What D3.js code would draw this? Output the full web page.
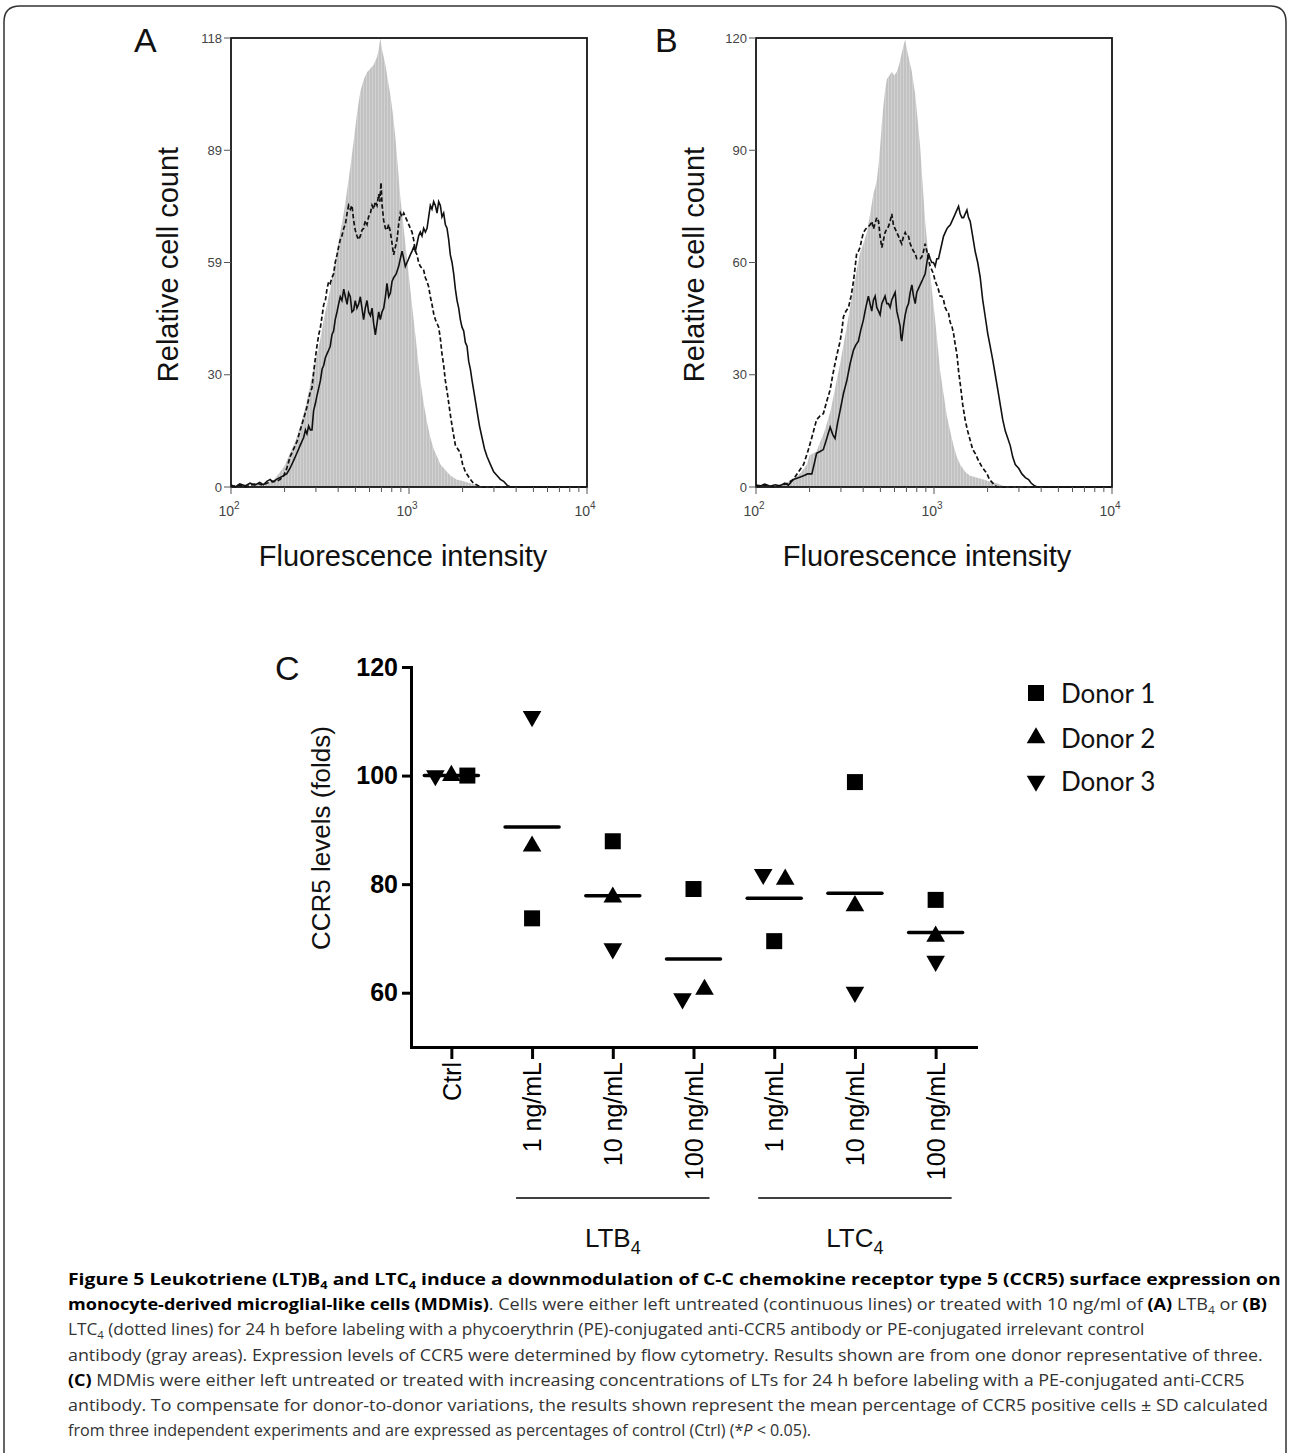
<!DOCTYPE html>
<html><head><meta charset="utf-8">
<script src="https://cdn.jsdelivr.net/npm/d3@7"></script>
<style>body{margin:0;background:#fff}</style>
</head><body>
<script>
// ---------- Panel A / B : flow cytometry histograms (intensity, relative count) ----------
const grayA = [[100,0],[140,0.5],[159,1],[175,2],[189,4],[200,5.5],[215,9],[230,12],[245,16],[262,21],[279,27],[298,33],[318,39],[332,44],[346,48],[361,52],[377,57],[394,62],[411,67],[430,72],[449,78],[468,84],[489,91],[510,98],[533,104],[556,107],[581,109],[607,110],[633,111],[647,112],[661,113],[676,115],[690,118],[705,115],[721,113],[737,111],[760,107],[786,103],[812,98],[838,92],[866,84],[894,76],[924,70],[954,64],[985,58],[1017,52],[1050,46],[1086,40],[1120,34],[1158,28],[1209,22],[1263,17],[1318,13],[1376,10],[1437,8],[1500,6],[1600,4.5],[1707,3],[1850,2],[2029,1.5],[2200,1],[2410,0.5],[2627,0]];
const solidA = [[100,0.5],[106,0],[112,0.8],[120,0.3],[128,1],[136,0.5],[145,1.2],[152,0.6],[159,1.5],[166,2],[172,1.3],[180,2],[189,2.5],[198,3],[206,3.5],[215,5],[225,7],[235,9],[245,11],[256,13],[262,15],[267,14],[273,16],[279,15],[285,15],[291,20],[298,22],[304,24],[311,26],[318,28],[325,31],[332,32],[339,34],[346,35],[354,36],[361,37],[369,40],[377,41],[385,44],[394,46],[402,48],[411,50],[420,49],[430,52],[439,50],[449,48],[458,51],[468,50],[478,46],[489,46.5],[499,49],[510,47],[521,48],[533,50],[544,47],[556,44],[568,47],[581,49],[593,46],[607,45],[620,47],[633,43],[647,40],[661,43],[676,46],[690,44],[705,46],[721,47],[737,50],[752,53.5],[769,50],[786,51],[803,54],[820,55],[847,56],[875,58],[894,60],[914,62],[934,60],[954,58],[975,59],[996,60],[1017,61],[1040,62],[1062,63],[1086,62],[1110,64],[1133,66],[1158,67],[1183,66],[1209,68],[1236,67],[1263,68],[1290,71],[1318,74],[1346,73],[1376,75],[1406,74],[1437,72],[1468,75],[1500,74],[1532,71],[1566,72],[1600,69],[1635,68],[1671,65],[1707,61],[1745,59],[1783,56],[1822,52],[1862,49],[1902,47],[1943,44],[1985,42],[2029,41],[2073,38],[2118,37],[2165,33],[2212,31],[2260,28],[2335,24],[2410,20],[2490,16],[2571,13],[2657,10],[2744,8],[2860,6],[2991,4],[3120,3],[3260,2],[3400,1.5],[3553,0.5],[3710,0],[10000,0]];
const dashedA = [[100,0],[110,0.5],[120,0],[130,0.5],[140,1],[150,0.5],[159,1],[170,1.5],[180,1.5],[189,2],[198,3],[206,5],[215,8],[225,10],[235,12],[245,15],[256,18],[267,21],[279,25],[285,26],[291,30],[298,34],[304,37],[311,40],[318,42],[325,45],[332,48],[339,49],[346,52],[354,54],[361,53.5],[369,55],[377,56],[385,59],[394,61],[402,63],[411,65],[420,66],[430,68],[439,69],[449,72],[458,74],[468,73],[478,74],[489,70],[499,67.5],[510,66],[521,65],[533,66],[544,67.5],[556,68],[568,70],[581,69],[593,71],[607,72],[620,74],[633,73],[647,75],[661,74],[676,77],[686,75],[696,80],[706,74],[721,70],[737,68],[752,67.5],[769,69],[786,67],[803,64],[820,61],[838,63],[856,65],[875,69],[894,72],[914,71],[934,72],[954,71],[975,70],[996,69],[1017,68],[1040,67],[1062,65],[1086,62],[1110,61],[1133,59],[1158,58],[1183,57.5],[1209,57],[1236,55],[1263,54],[1290,52.6],[1318,50],[1346,48],[1376,45.6],[1406,44],[1437,43],[1468,42],[1500,39],[1532,35],[1566,32],[1600,28],[1650,24],[1707,19],[1760,15],[1822,11],[1880,10],[1943,9],[2000,6],[2073,4],[2140,3],[2212,2],[2300,1],[2410,0.5],[2517,0],[10000,0]];

const grayB = [[100,0],[140,0.5],[162,2],[180,4],[193,6],[200,8.5],[210,9],[219,9.5],[229,12],[239,14],[250,17],[261,20],[272,24],[284,28.5],[297,33],[310,38],[324,43],[338,48],[353,53.5],[368,58],[384,62.5],[401,65],[419,68],[438,73],[457,78.5],[467,80],[477,82],[488,86],[498,91],[509,97],[520,102],[531,106],[543,109],[561,110],[579,111],[598,110],[618,111],[638,113],[659,116],[674,118],[689,119.6],[704,117],[719,115],[735,113],[751,111],[767,108],[784,105],[810,98],[836,91],[863,81],[892,71],[921,64],[951,57],[982,51],[1015,44.6],[1048,38],[1083,31],[1131,25],[1181,19],[1233,15],[1288,11],[1344,8],[1403,6],[1500,4],[1597,3],[1750,2.5],[1898,2],[2050,1.5],[2256,1],[2400,0.5],[2569,0]];
const solidB = [[100,0.5],[106,0.3],[112,0.8],[120,0.2],[128,0.6],[136,0.3],[145,1],[152,0.5],[162,2],[173,2.5],[185,3],[195,3.5],[206,3.5],[212,6],[219,9],[229,9.5],[239,10],[250,13],[261,16],[270,14],[278,13],[287,17],[297,20.5],[310,25],[324,28.5],[338,33],[353,36.6],[364,38],[376,39],[388,42],[401,44.6],[414,48],[428,51],[437,49],[447,47],[457,50],[467,51],[477,48],[488,47],[498,46],[509,49],[520,50],[531,51],[543,49],[555,49],[567,48],[579,50],[592,51],[605,52],[618,47],[632,45],[645,43],[652,40],[659,39],[674,43],[689,46],[704,48],[719,49],[735,52],[751,54],[767,51],[784,49],[800,52],[818,53],[836,54],[855,55],[873,56],[892,57],[912,60],[931,62.5],[951,61],[972,60],[993,60],[1015,59],[1037,61],[1060,61],[1083,63],[1107,65],[1131,67],[1155,68],[1181,69],[1207,69.6],[1233,70],[1260,71],[1288,72],[1316,73],[1344,74],[1374,75],[1403,73],[1434,72],[1466,72],[1497,73],[1531,74],[1563,72],[1597,71],[1650,67],[1703,63],[1760,60],[1818,56],[1878,50],[1940,45.5],[2004,41],[2070,37.5],[2138,34],[2209,30],[2282,26],[2356,22],[2433,18],[2513,15],[2597,13],[2683,11],[2770,8],[2861,6],[2990,5],[3118,3.5],[3260,2.5],[3398,2],[3520,1],[3630,0.5],[3788,0],[10000,0]];
const dashedB = [[100,0],[112,0.5],[125,0],[140,0.5],[150,1],[162,2],[173,4],[185,6],[191,8],[197,10],[208,14],[219,18],[229,19],[239,19.6],[250,23],[261,26],[270,30],[278,33],[287,36],[297,39],[304,42],[310,45.5],[320,47],[331,48],[342,51],[353,55],[361,59],[368,62.5],[376,63],[384,64],[392,66],[401,68],[414,69],[428,69.6],[437,70],[447,71],[457,69],[467,70.5],[477,72],[488,71],[498,67],[509,64],[520,66],[531,68],[543,69],[555,69.6],[567,71],[579,73],[592,70],[605,69],[618,68],[632,67],[645,66],[659,65],[674,67],[689,68],[704,67],[719,67],[735,65],[751,64],[767,63],[784,62.5],[800,61],[818,61],[836,61],[855,61.6],[873,63],[892,65],[912,63],[931,61],[951,59],[972,58],[993,57],[1015,55],[1037,54],[1060,52.7],[1083,51],[1107,51],[1131,50],[1155,48],[1181,47],[1207,46.4],[1233,44],[1260,43],[1288,41],[1316,38],[1344,35.7],[1374,31],[1403,27.7],[1450,22],[1497,17.9],[1545,15],[1597,12.5],[1650,10],[1703,9],[1780,7],[1858,5.4],[1920,4.5],[1982,3.6],[2050,2],[2115,1.3],[2180,0.6],[2256,0],[10000,0]];

const yTicksA = [0, 29.5, 59, 88.5, 118];
const yTickLabelsA = ["0", "30", "59", "89", "118"];
const yTicksB = [0, 30, 60, 90, 120];
const yTickLabelsB = ["0", "30", "60", "90", "120"];
const xMajor = [100, 1000, 10000];
const xMajorExp = ["2", "3", "4"];
const xMinor = [200,300,400,500,600,700,800,900,2000,3000,4000,5000,6000,7000,8000,9000];

// ---------- Panel C : CCR5 levels ----------
const catLabelsC = ["Ctrl", "1 ng/mL", "10 ng/mL", "100 ng/mL", "1 ng/mL", "10 ng/mL", "100 ng/mL"];
const donor1 = [100, 73.7, 87.9, 79.1, 69.5, 98.8, 77.1];
const donor2 = [100, 87.0, 77.6, 60.6, 80.9, 76.0, 70.4];
const donor3 = [100, 110.9, 68.1, 58.9, 81.8, 60.1, 65.8];
const donorNames = ["Donor 1", "Donor 2", "Donor 3"];
const yTicksC = [60, 80, 100, 120];
const groupsC = [{name: "LTB", idx: [1, 2, 3]}, {name: "LTC", idx: [4, 5, 6]}];

// ---------- drawing ----------
const W = 1290, H = 1453;
const svg = d3.select("body").append("svg").attr("width", W).attr("height", H)
  .style("font-family", "'Liberation Sans', Arial, Helvetica, sans-serif");

const defs = svg.append("defs");
const pat = defs.append("pattern").attr("id", "stripe").attr("patternUnits", "userSpaceOnUse")
  .attr("width", 3).attr("height", 10);
pat.append("rect").attr("width", 3).attr("height", 10).attr("fill", "#c2c2c2");
pat.append("rect").attr("width", 1).attr("height", 10).attr("fill", "#d2d2d2");

// outer frame
svg.append("path")
  .attr("d", `M4,${H} L4,22 Q4,6 20,6 L1270,6 Q1286,6 1286,22 L1286,${H}`)
  .attr("fill", "none").attr("stroke", "#333").attr("stroke-width", 1.5);

function flowPanel(cfg) {
  const g = svg.append("g");
  const x = d3.scaleLog().domain([100, 10000]).range([cfg.x0, cfg.x1]);
  const y = d3.scaleLinear().domain([0, cfg.ymax]).range([cfg.y1, cfg.y0]);
  const area = d3.area().x(d => x(d[0])).y0(y(0)).y1(d => y(d[1]));
  const line = d3.line().x(d => x(d[0])).y(d => y(d[1]));
  g.append("path").datum(cfg.gray).attr("d", area).attr("fill", "url(#stripe)");
  g.append("path").datum(cfg.dashed).attr("d", line).attr("fill", "none")
    .attr("stroke", "#111").attr("stroke-width", 1.7).attr("stroke-dasharray", "4.5,2.5");
  g.append("path").datum(cfg.solid).attr("d", line).attr("fill", "none")
    .attr("stroke", "#111").attr("stroke-width", 1.6);
  // frame
  g.append("rect").attr("x", cfg.x0).attr("y", cfg.y0)
    .attr("width", cfg.x1 - cfg.x0).attr("height", cfg.y1 - cfg.y0)
    .attr("fill", "none").attr("stroke", "#151515").attr("stroke-width", 1.8);
  // y ticks
  cfg.yt.forEach((v, i) => {
    g.append("line").attr("x1", cfg.x0 - 7).attr("x2", cfg.x0).attr("y1", y(v)).attr("y2", y(v))
      .attr("stroke", "#555").attr("stroke-width", 1);
    g.append("text").attr("x", cfg.x0 - 9).attr("y", y(v)).attr("dy", "0.35em")
      .attr("text-anchor", "end").attr("font-size", 13).attr("fill", "#444").text(cfg.ytl[i]);
  });
  // x ticks (log)
  xMinor.forEach(v => g.append("line").attr("x1", x(v)).attr("x2", x(v))
    .attr("y1", cfg.y1).attr("y2", cfg.y1 + 5).attr("stroke", "#555").attr("stroke-width", 1));
  xMajor.forEach((v, i) => {
    g.append("line").attr("x1", x(v)).attr("x2", x(v)).attr("y1", cfg.y1).attr("y2", cfg.y1 + 7)
      .attr("stroke", "#555").attr("stroke-width", 1);
    const t = g.append("text").attr("x", x(v) - 2).attr("y", cfg.y1 + 29)
      .attr("text-anchor", "middle").attr("font-size", 14).attr("fill", "#444");
    t.append("tspan").text("10");
    t.append("tspan").attr("dy", -7).attr("font-size", 10).text(xMajorExp[i]);
  });
  // titles
  g.append("text").attr("transform", `translate(${cfg.ytx},${(cfg.y0 + cfg.y1) / 2 + 2}) rotate(-90)`)
    .attr("text-anchor", "middle").attr("font-size", 29).attr("fill", "#111").text("Relative cell count");
  g.append("text").attr("x", cfg.xtx).attr("y", 566).attr("text-anchor", "middle")
    .attr("font-size", 29).attr("fill", "#111").text("Fluorescence intensity");
  g.append("text").attr("x", cfg.lx).attr("y", 52).attr("font-size", 34).attr("fill", "#111").text(cfg.letter);
}

flowPanel({x0: 231, x1: 587, y0: 38, y1: 487, ymax: 118, yt: yTicksA, ytl: yTickLabelsA,
  gray: grayA, solid: solidA, dashed: dashedA, ytx: 178, xtx: 403, letter: "A", lx: 134});
flowPanel({x0: 756, x1: 1112, y0: 38, y1: 487, ymax: 120, yt: yTicksB, ytl: yTickLabelsB,
  gray: grayB, solid: solidB, dashed: dashedB, ytx: 704, xtx: 927, letter: "B", lx: 655});

// ---------- Panel C ----------
const xC = d3.scalePoint().domain(d3.range(catLabelsC.length)).range([411, 976]).padding(0.5);
const yC = d3.scaleLinear().domain([50, 120]).range([1047, 667]);
const gC = svg.append("g");

const yAx = gC.append("g").attr("transform", "translate(411,0)")
  .call(d3.axisLeft(yC).tickValues(yTicksC).tickSize(9).tickSizeOuter(0).tickPadding(4));
const xAx = gC.append("g").attr("transform", "translate(0,1047)")
  .call(d3.axisBottom(xC).tickSize(12).tickSizeOuter(0).tickFormat(i => catLabelsC[i]));
[yAx, xAx].forEach(a => {
  a.select(".domain").attr("stroke", "#000").attr("stroke-width", 3).attr("stroke-linecap", "square");
  a.selectAll(".tick line").attr("stroke", "#000").attr("stroke-width", 3);
});
yAx.selectAll(".tick text").attr("font-size", 25).attr("font-weight", "bold").attr("fill", "#000")
  .attr("font-family", "'Liberation Sans', Arial, sans-serif");
xAx.selectAll(".tick text").attr("font-size", 25).attr("fill", "#000")
  .attr("font-family", "'Liberation Sans', Arial, sans-serif")
  .attr("transform", "rotate(-90)").attr("text-anchor", "end")
  .attr("x", -15).attr("y", 0).attr("dy", "0.35em");

gC.append("text").attr("transform", "translate(330,838) rotate(-90)").attr("text-anchor", "middle")
  .attr("font-size", 26).attr("fill", "#111").text("CCR5 levels (folds)");
gC.append("text").attr("x", 275).attr("y", 680).attr("font-size", 34).attr("fill", "#111").text("C");

// group brackets
groupsC.forEach(gr => {
  const a = xC(gr.idx[0]) - 16, b = xC(gr.idx[gr.idx.length - 1]) + 16;
  gC.append("line").attr("x1", a).attr("x2", b).attr("y1", 1198).attr("y2", 1198)
    .attr("stroke", "#000").attr("stroke-width", 1.6);
  const t = gC.append("text").attr("x", (a + b) / 2).attr("y", 1247).attr("text-anchor", "middle")
    .attr("font-size", 26).attr("fill", "#111");
  t.append("tspan").text(gr.name);
  t.append("tspan").attr("dy", 7).attr("font-size", 18).text("4");
});

// markers
const donors = [donor1, donor2, donor3];
const symTypes = [d3.symbolSquare, d3.symbolTriangle, d3.symbolTriangle];
const symSizes = [256, 150, 150];
const symRot = [0, 0, 180];
function sym(k) { return d3.symbol().type(symTypes[k]).size(symSizes[k])(); }

catLabelsC.forEach((_, i) => {
  // plotting order: donor 3, 2, 1 (left to right when overlapping)
  const pts = [2, 1, 0].map(k => ({k, v: donors[k][i]}));
  const clusters = [];
  pts.forEach(p => {
    const c = clusters.find(cl => cl.some(q => Math.abs(q.v - p.v) < 3.2));
    if (c) c.push(p); else clusters.push([p]);
  });
  clusters.forEach(cl => {
    const sp = cl.length === 2 ? 22 : 16;
    cl.forEach((p, j) => {
      const dx = (j - (cl.length - 1) / 2) * sp;
      gC.append("path").attr("d", sym(p.k))
        .attr("transform", `translate(${xC(i) + dx},${yC(p.v)}) rotate(${symRot[p.k]})`)
        .attr("fill", "#000");
    });
  });
  const m = d3.mean(donors, d => d[i]);
  gC.append("line").attr("x1", xC(i) - 27).attr("x2", xC(i) + 27).attr("y1", yC(m)).attr("y2", yC(m))
    .attr("stroke", "#000").attr("stroke-width", 3.5).attr("stroke-linecap", "round");
});

// legend
const legY = [693, 738, 781];
donorNames.forEach((n, k) => {
  gC.append("path").attr("d", sym(k))
    .attr("transform", `translate(1036,${legY[k]}) rotate(${symRot[k]})`).attr("fill", "#000");
  gC.append("text").attr("x", 1061).attr("y", legY[k] + 9.5).attr("font-size", 26)
    .attr("font-family", "Lato, 'Open Sans', sans-serif").attr("fill", "#111").text(n);
});

// ---------- caption ----------
const captionLines = [
  [{t: "Figure 5 Leukotriene (LT)B", b: 1}, {t: "4", b: 1, sub: 1}, {t: " and LTC", b: 1}, {t: "4", b: 1, sub: 1}, {t: " induce a downmodulation of C-C chemokine receptor type 5 (CCR5) surface expression on", b: 1}],
  [{t: "monocyte-derived microglial-like cells (MDMis)", b: 1}, {t: ". Cells were either left untreated (continuous lines) or treated with 10 ng/ml of "}, {t: "(A)", b: 1}, {t: " LTB"}, {t: "4", sub: 1}, {t: " or "}, {t: "(B)", b: 1}],
  [{t: "LTC"}, {t: "4", sub: 1}, {t: " (dotted lines) for 24 h before labeling with a phycoerythrin (PE)-conjugated anti-CCR5 antibody or PE-conjugated irrelevant control"}],
  [{t: "antibody (gray areas). Expression levels of CCR5 were determined by flow cytometry. Results shown are from one donor representative of three."}],
  [{t: "(C)", b: 1}, {t: " MDMis were either left untreated or treated with increasing concentrations of LTs for 24 h before labeling with a PE-conjugated anti-CCR5"}],
  [{t: "antibody. To compensate for donor-to-donor variations, the results shown represent the mean percentage of CCR5 positive cells ± SD calculated"}],
  [{t: "from three independent experiments and are expressed as percentages of control (Ctrl) (*"}, {t: "P", i: 1}, {t: " < 0.05)."}]
];
const capEnds = [1281, 1268, 1145, 1263, 1245, 1268, 812];
const capX = 68;
captionLines.forEach((segs, li) => {
  const y = 1285 + li * 25.2;
  const t = svg.append("text").attr("x", 0).attr("y", 0)
    .attr("font-family", "'Open Sans', 'Noto Sans', sans-serif").attr("font-size", 16.5).attr("fill", "#333");
  let shifted = false;
  segs.forEach(s => {
    const sp = t.append("tspan").text(s.t);
    if (s.b) sp.attr("font-weight", "bold").attr("fill", "#000");
    if (s.i) sp.attr("font-style", "italic");
    if (s.sub) { sp.attr("dy", 4).attr("font-size", 11); shifted = true; }
    else if (shifted) { sp.attr("dy", -4); shifted = false; }
  });
  const len = t.node().getComputedTextLength();
  const sc = (capEnds[li] - capX) / len;
  t.attr("transform", `translate(${capX},${y}) scale(${sc},1)`);
});
</script>
</body></html>
